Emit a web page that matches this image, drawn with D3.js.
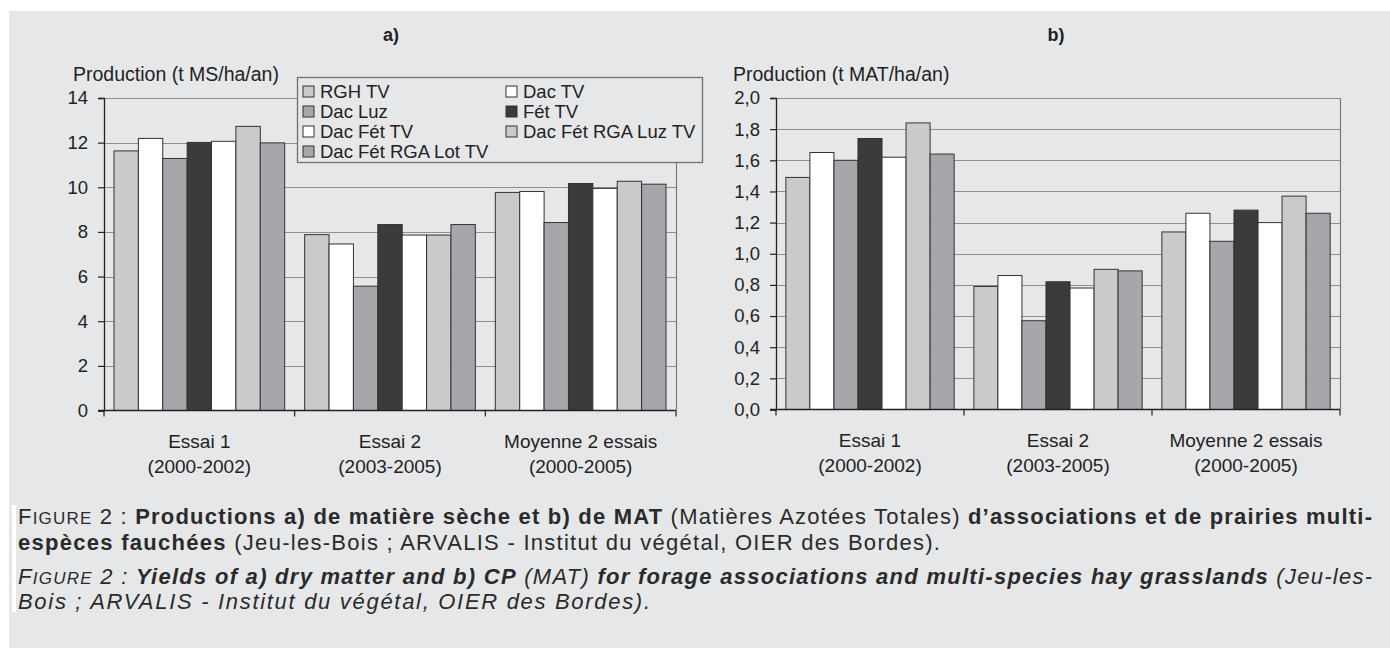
<!DOCTYPE html>
<html>
<head>
<meta charset="utf-8">
<script src="https://cdn.jsdelivr.net/npm/d3@7"></script>
<style>
  body { margin: 0; background: #fff; }
  svg text { font-family: "Liberation Sans", Arial, sans-serif; fill: #222; }
</style>
</head>
<body>
<svg id="fig"></svg>
<script>
(function() {

  var width = 1390, height = 648;

  // categories on the x axis (two lines each)
  var categories = ["Essai 1", "Essai 2", "Moyenne 2 essais"];
  var periods = ["(2000-2002)", "(2003-2005)", "(2000-2005)"];

  var series = ["RGH TV", "Dac TV", "Dac Luz", "Fét TV", "Dac Fét TV",
                "Dac Fét RGA Luz TV", "Dac Fét RGA Lot TV"];

  // a) dry matter, t MS/ha/an, one row per category
  var msValues = [
    [11.63, 12.19, 11.29, 12.01, 12.06, 12.73, 11.99],
    [7.88, 7.46, 5.57, 8.33, 7.86, 7.86, 8.33],
    [9.77, 9.81, 8.42, 10.17, 9.95, 10.27, 10.14]
  ];

  // b) crude protein, t MAT/ha/an
  var matValues = [
    [1.49, 1.65, 1.60, 1.74, 1.62, 1.84, 1.64],
    [0.79, 0.86, 0.57, 0.82, 0.78, 0.90, 0.89],
    [1.14, 1.26, 1.08, 1.28, 1.20, 1.37, 1.26]
  ];

  var msTicks = [0, 2, 4, 6, 8, 10, 12, 14];
  var matTicks = [0, 0.2, 0.4, 0.6, 0.8, 1.0, 1.2, 1.4, 1.6, 1.8, 2.0];

  var colors = ["#c9cacc", "#ffffff", "#a6a7aa", "#3b3b3b", "#ffffff", "#c9cacc", "#a6a7aa"];
  var panelColor = "#e6e7e9";

  var frFormat = d3.formatLocale({decimal: ",", thousands: " ", grouping: [3], currency: ["", " €"]});

  var svg = d3.select("#fig")
    .attr("width", width)
    .attr("height", height);

  svg.append("rect")
    .attr("x", 9).attr("y", 11)
    .attr("width", width - 9).attr("height", height - 11)
    .attr("fill", panelColor);

  function drawChart(opt) {
    var g = svg.append("g");
    var x0 = d3.scaleBand().domain(categories).range([opt.left, opt.right]);
    var x1 = d3.scaleBand().domain(series).range([0, x0.bandwidth()]).paddingOuter(0.41);
    var y = d3.scaleLinear().domain([0, opt.max]).range([opt.bottom, opt.top]);

    // gridlines
    g.selectAll(".grid")
      .data(opt.ticks.filter(function(d) { return d > 0; }))
      .enter().append("line")
      .attr("x1", opt.left).attr("x2", opt.right)
      .attr("y1", function(d) { return Math.round(y(d)) + 0.5; })
      .attr("y2", function(d) { return Math.round(y(d)) + 0.5; })
      .attr("stroke", "#8e8f91")
      .attr("stroke-width", 1.2);

    g.append("line")
      .attr("x1", opt.right + 0.5).attr("x2", opt.right + 0.5)
      .attr("y1", y(opt.max)).attr("y2", opt.bottom)
      .attr("stroke", "#7a7b7d")
      .attr("stroke-width", 1.2);

    // bars
    var groups = g.selectAll(".cat")
      .data(opt.values)
      .enter().append("g")
      .attr("transform", function(d, i) { return "translate(" + x0(categories[i]) + ",0)"; });

    groups.selectAll("rect")
      .data(function(d) { return d; })
      .enter().append("rect")
      .attr("x", function(d, i) { return x1(series[i]); })
      .attr("y", function(d) { return y(d); })
      .attr("width", x1.bandwidth())
      .attr("height", function(d) { return opt.bottom - y(d); })
      .attr("fill", function(d, i) { return colors[i]; })
      .attr("stroke", "#333")
      .attr("stroke-width", 1);

    // y axis
    var yAxis = d3.axisLeft(y)
      .tickValues(opt.ticks)
      .tickSize(6)
      .tickPadding(10)
      .tickFormat(opt.format);

    var ya = g.append("g")
      .attr("transform", "translate(" + opt.left + ",0)")
      .call(yAxis);
    ya.select(".domain").attr("stroke", "#222").attr("stroke-width", 1.3);
    ya.selectAll(".tick line").attr("stroke", "#222").attr("stroke-width", 1.2);
    ya.selectAll(".tick text")
      .attr("font-size", 18.5)
      .attr("font-family", "Liberation Sans, Arial, sans-serif")
      .attr("fill", "#222");

    // x axis: boundaries between categories
    var bounds = categories.map(function(c) { return x0(c); }).concat([opt.right]);
    g.append("line")
      .attr("x1", opt.left - 6).attr("x2", opt.right)
      .attr("y1", opt.bottom).attr("y2", opt.bottom)
      .attr("stroke", "#222").attr("stroke-width", 1.3);
    g.selectAll(".xtick")
      .data(bounds)
      .enter().append("line")
      .attr("x1", function(d) { return d; }).attr("x2", function(d) { return d; })
      .attr("y1", opt.bottom).attr("y2", opt.bottom + 6)
      .attr("stroke", "#222").attr("stroke-width", 1.2);

    var labels = g.selectAll(".xlab")
      .data(categories)
      .enter().append("text")
      .attr("text-anchor", "middle")
      .attr("font-size", 19)
      .attr("x", function(d) { return x0(d) + x0.bandwidth() / 2; });
    labels.append("tspan")
      .attr("x", function(d) { return x0(d) + x0.bandwidth() / 2; })
      .attr("y", opt.bottom + 37)
      .text(function(d) { return d; });
    labels.append("tspan")
      .attr("x", function(d) { return x0(d) + x0.bandwidth() / 2; })
      .attr("y", opt.bottom + 62)
      .text(function(d, i) { return periods[i]; });

    g.append("text")
      .attr("x", opt.titleX).attr("y", 81)
      .attr("font-size", 19.5)
      .text(opt.title);

    g.append("text")
      .attr("x", opt.letterX).attr("y", 41)
      .attr("text-anchor", "middle")
      .attr("font-size", 18)
      .attr("font-weight", "bold")
      .text(opt.letter);
  }

  drawChart({
    left: 104, right: 676, top: 98, bottom: 410.5,
    max: 14, ticks: msTicks, values: msValues,
    format: d3.format("d"),
    title: "Production (t MS/ha/an)", titleX: 73,
    letter: "a)", letterX: 391
  });

  drawChart({
    left: 776, right: 1340, top: 98, bottom: 409.5,
    max: 2, ticks: matTicks, values: matValues,
    format: frFormat.format(".1f"),
    title: "Production (t MAT/ha/an)", titleX: 733,
    letter: "b)", letterX: 1056
  });

  // legend over chart a)
  var legend = svg.append("g");
  legend.append("rect")
    .attr("x", 297.5).attr("y", 77.5)
    .attr("width", 405).attr("height", 85)
    .attr("fill", panelColor)
    .attr("stroke", "#6f7072")
    .attr("stroke-width", 1.3);

  var items = legend.selectAll(".item")
    .data(series)
    .enter().append("g")
    .attr("transform", function(d, i) {
      var col = i < 6 ? i % 2 : 0;
      var row = i < 6 ? Math.floor(i / 2) : 3;
      return "translate(" + (303 + col * 203) + "," + (86 + row * 20) + ")";
    });
  items.append("rect")
    .attr("width", 11).attr("height", 11)
    .attr("fill", function(d, i) { return colors[i]; })
    .attr("stroke", "#333")
    .attr("stroke-width", 1);
  items.append("text")
    .attr("x", 17).attr("y", 12)
    .attr("font-size", 18.5)
    .text(function(d) { return d; });

  // caption
  svg.append("rect")
    .attr("x", 12).attr("y", 505)
    .attr("width", 4).attr("height", 107)
    .attr("fill", "#ffffff");

  var captionLines = [
    [["F", "n", 22], ["IGURE", "n", 17], [" 2 : ", "n", 22], ["Productions a) de matière sèche et b) de MAT", "b", 22],
     [" (Matières Azotées Totales) ", "n", 22], ["d’associations et de prairies multi-", "b", 22]],
    [["espèces fauchées", "b", 22], [" (Jeu-les-Bois ; ARVALIS - Institut du végétal, OIER des Bordes).", "n", 22]],
    [["F", "i", 22], ["IGURE", "i", 17], [" 2 : ", "i", 22], ["Yields of a) dry matter and b) CP", "bi", 22], [" (MAT) ", "i", 22],
     ["for forage associations and multi-species hay grasslands", "bi", 22], [" (Jeu-les-", "i", 22]],
    [["Bois ; ARVALIS - Institut du végétal, OIER des Bordes).", "i", 22]]
  ];
  var captionY = [524, 550, 584, 609];
  var captionW = [1354, 922, 1354, 632];

  captionLines.forEach(function(line, li) {
    var t = svg.append("text")
      .attr("x", 18).attr("y", captionY[li])
      .attr("font-size", 22)
      .style("fill", "#2a2a2a");
    line.forEach(function(part) {
      t.append("tspan")
        .attr("font-size", part[2])
        .attr("font-weight", part[1].indexOf("b") >= 0 ? "bold" : "normal")
        .attr("font-style", part[1].indexOf("i") >= 0 ? "italic" : "normal")
        .text(part[0]);
    });
    t.attr("textLength", captionW[li]).attr("lengthAdjust", "spacing");
  });

})()
</script>
</body>
</html>
